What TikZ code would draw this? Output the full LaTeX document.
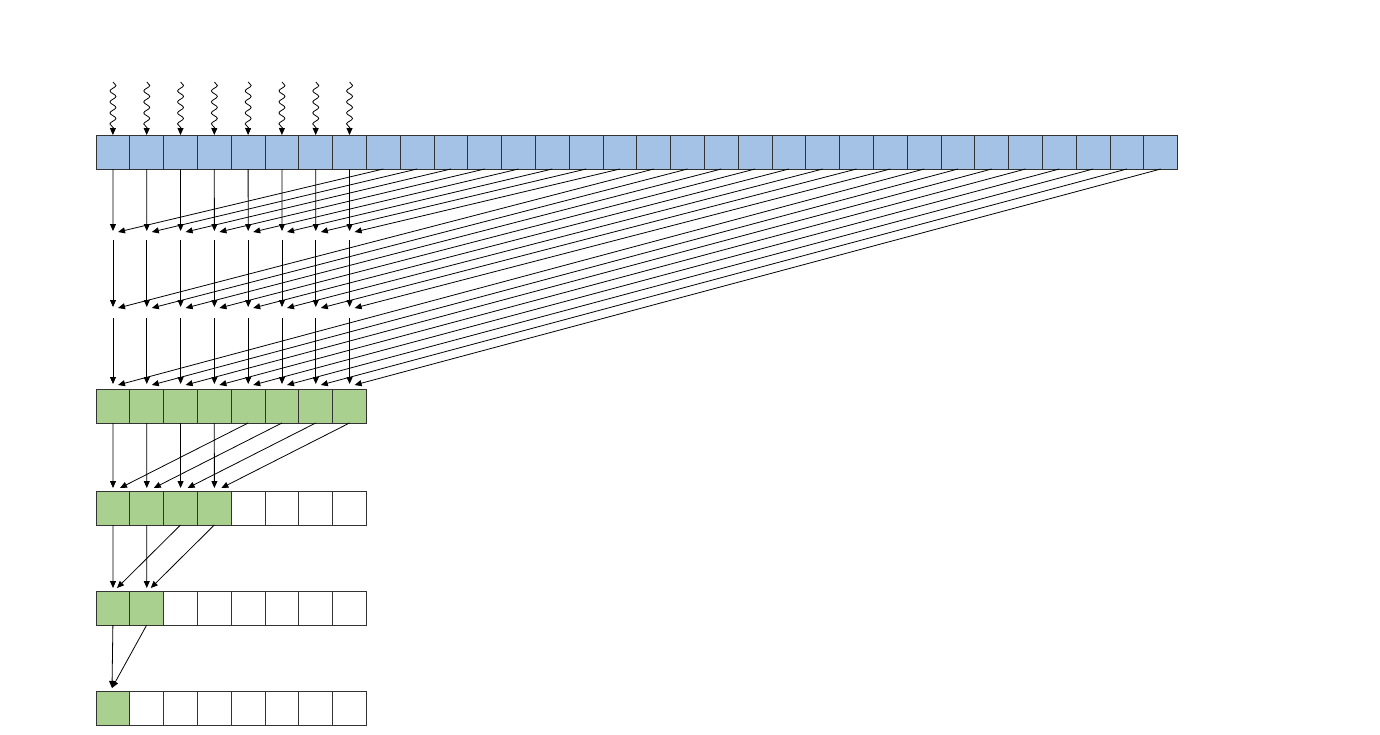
\documentclass[tikz,border=0pt]{standalone}
\usetikzlibrary{arrows.meta,decorations.pathmorphing}
\definecolor{cblue}{HTML}{A4C2E6}
\definecolor{cgreen}{HTML}{A9D08E}
\begin{document}
\begin{tikzpicture}[x=1pt,y=-1pt,
  cell/.style={draw=black!80,line width=1pt,minimum width=33.8pt,minimum height=34pt,inner sep=0,outer sep=0,anchor=north west},
  arr/.style={-{Triangle[length=7pt,width=6pt]},line width=0.8pt},
  wave/.style={-{Triangle[length=7pt,width=6pt]},line width=0.8pt,decorate,decoration={snake,amplitude=3pt,segment length=11pt,post length=6pt}}]
\useasboundingbox (0,0) rectangle (1380,734);
% top row
\foreach \i in {0,...,31}{\node[cell,fill=cblue] (t\i) at (96+33.8*\i,135) {};}
% squiggles
\foreach \i in {0,...,7}{
  \coordinate (sq\i) at (113+33.8*\i,82);
  \draw[wave] (sq\i) -- (t\i.north);}
% stage points
\foreach \i in {0,...,7}{
  \coordinate (a\i) at (113+33.8*\i,231);
  \coordinate (b\i) at (113+33.8*\i,307);
  \coordinate (c\i) at (113+33.8*\i,384);
  \coordinate (b0\i) at (113+33.8*\i,240);
  \coordinate (c0\i) at (113+33.8*\i,318);
  \coordinate (ad\i) at (118+33.8*\i,232);
  \coordinate (bd\i) at (118+33.8*\i,308);
  \coordinate (cd\i) at (118+33.8*\i,385);
  \draw[arr] (t\i.south) -- (a\i);
  \draw[arr] (b0\i) -- (b\i);
  \draw[arr] (c0\i) -- (c\i);
  \pgfmathtruncatemacro{\ja}{\i+8}
  \pgfmathtruncatemacro{\jb}{\i+16}
  \pgfmathtruncatemacro{\jc}{\i+24}
  \draw[arr] (t\ja.south) -- (ad\i);
  \draw[arr] (t\jb.south) -- (bd\i);
  \draw[arr] (t\jc.south) -- (cd\i);
}
% green rows
\foreach \i in {0,...,7}{
  \node[cell,fill=cgreen] (g\i) at (96+33.8*\i,389) {};}
\foreach \i in {0,...,7}{
  \ifnum\i<4 \node[cell,fill=cgreen] (h\i) at (96+33.8*\i,491) {};
  \else \node[cell] (h\i) at (96+33.8*\i,491) {};\fi
  \ifnum\i<2 \node[cell,fill=cgreen] (k\i) at (96+33.8*\i,591) {};
  \else \node[cell] (k\i) at (96+33.8*\i,591) {};\fi
  \ifnum\i<1 \node[cell,fill=cgreen] (m\i) at (96+33.8*\i,691) {};
  \else \node[cell] (m\i) at (96+33.8*\i,691) {};\fi}
\foreach \i in {0,...,3}{
  \coordinate (hv\i) at (113+33.8*\i,488);
  \coordinate (hd\i) at (120+33.8*\i,488);
  \pgfmathtruncatemacro{\j}{\i+4}
  \draw[arr] (g\i.south) -- (hv\i);
  \draw[arr] (g\j.south) -- (hd\i);}
\foreach \i in {0,1}{
  \coordinate (kv\i) at (113+33.8*\i,588);
  \coordinate (kd\i) at (117+33.8*\i,588);
  \pgfmathtruncatemacro{\j}{\i+2}
  \draw[arr] (h\i.south) -- (kv\i);
  \draw[arr] (h\j.south) -- (kd\i);}
\coordinate (mv) at (112,688);
\draw[arr] (k0.south) -- (mv);
\draw[arr] (k1.south) -- (mv);
\end{tikzpicture}
\end{document}
